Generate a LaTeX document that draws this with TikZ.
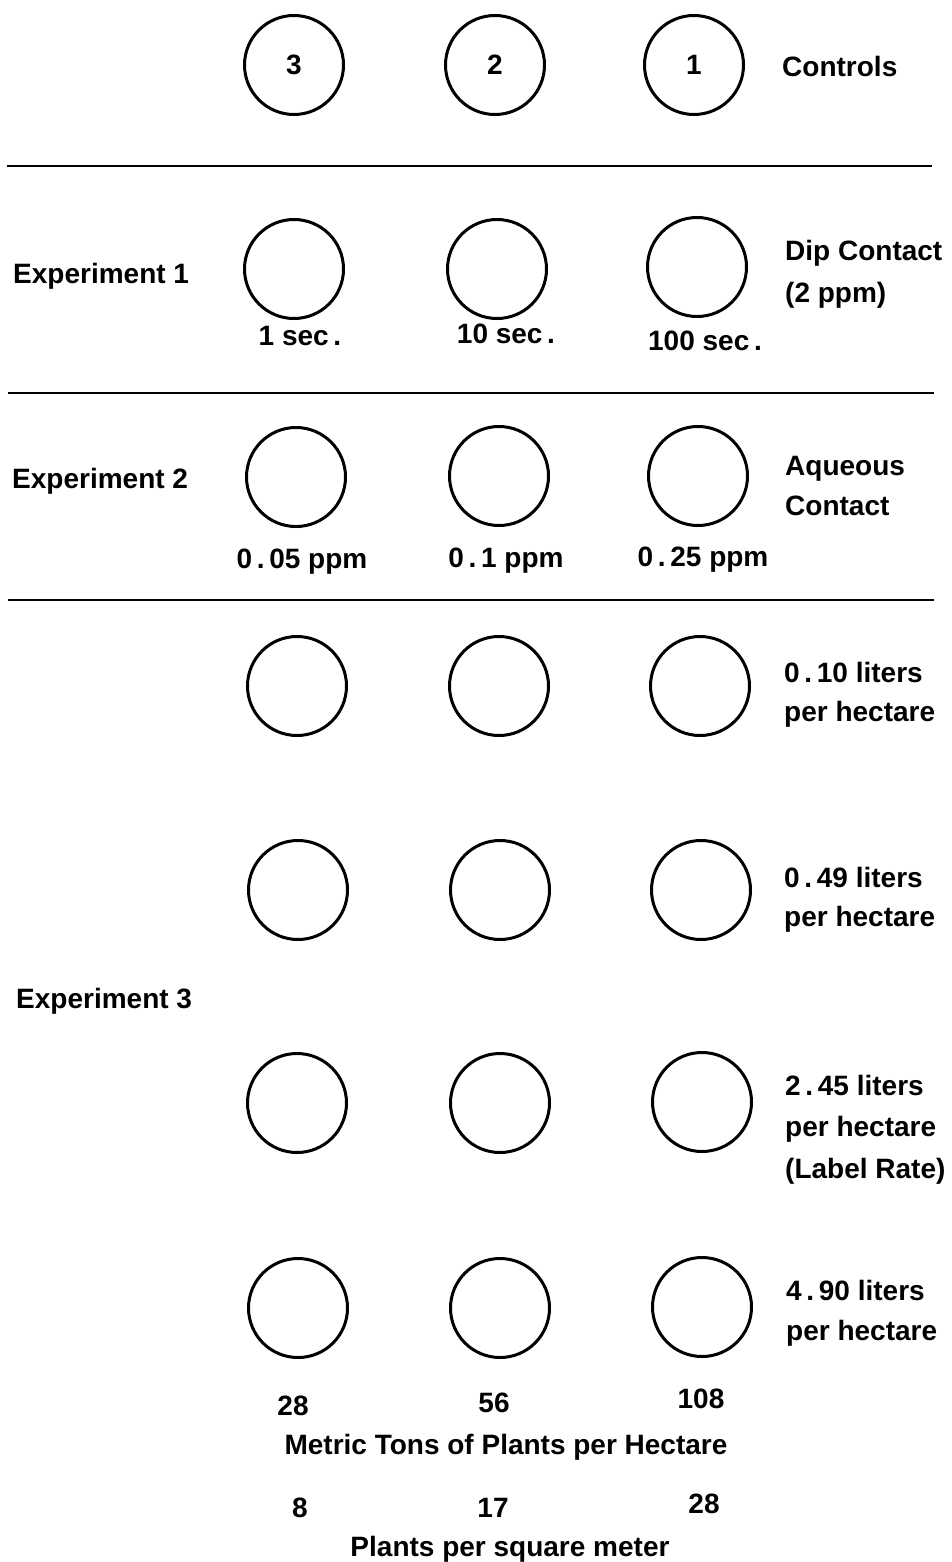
\documentclass[tikz,border=0pt]{standalone}
\usepackage{fontspec}
\setmainfont{Liberation Sans}
\begin{document}
\begin{tikzpicture}[x=1pt,y=-1pt,
  dish/.style={circle,draw,line width=3pt,minimum size=99pt,inner sep=0pt},
  lbl/.style={inner sep=0pt,font=\fontsize{28}{40}\selectfont\bfseries},
  bl/.style={lbl,anchor=base},
  rl/.style={lbl,anchor=base west},
  sep/.style={line width=2.6pt}]
\useasboundingbox (0,0) rectangle (951,1562);
% Controls
\node[dish,lbl] (c3) at (294,65) {3};
\node[dish,lbl] (c2) at (495,65) {2};
\node[dish,lbl] (c1) at (694,65) {1};
\node[rl] (ctl) at (782,77) {Controls};
\coordinate (l1a) at (7,166); \coordinate (l1b) at (932,166);
\draw[sep] (l1a) -- (l1b);
% Experiment 1
\node[lbl,anchor=base west] (e1) at (13,283) {Experiment 1};
\node[dish] (a1) at (294,269) {};
\node[dish] (a2) at (497,269) {};
\node[dish] (a3) at (697,267) {};
\node[rl] (dip1) at (785,260) {Dip Contact};
\node[rl] (dip2) at (785,302) {(2 ppm)};
\node[bl] (t1) at (300,345) {1 sec\,.};
\node[bl] (t2) at (506,343) {10 sec\,.};
\node[bl] (t3) at (705,350) {100 sec\,.};
\coordinate (l2a) at (8,393); \coordinate (l2b) at (934,393);
\draw[sep] (l2a) -- (l2b);
% Experiment 2
\node[lbl,anchor=base west] (e2) at (12,488) {Experiment 2};
\node[dish] (b1) at (296,477) {};
\node[dish] (b2) at (499,476) {};
\node[dish] (b3) at (698,476) {};
\node[rl] (aq1) at (785,475) {Aqueous};
\node[rl] (aq2) at (785,515) {Contact};
\node[bl] (p1) at (302,568) {0\,.\,05 ppm};
\node[bl] (p2) at (506,567) {0\,.\,1 ppm};
\node[bl] (p3) at (703,566) {0\,.\,25 ppm};
\coordinate (l3a) at (8,600); \coordinate (l3b) at (934,600);
\draw[sep] (l3a) -- (l3b);
% Experiment 3
\node[lbl,anchor=base west] (e3) at (16,1008) {Experiment 3};
\node[dish] (d11) at (297,686) {};
\node[dish] (d12) at (499,686) {};
\node[dish] (d13) at (700,686) {};
\node[rl] (r1a) at (784,682) {0\,.\,10 liters};
\node[rl] (r1b) at (784,721) {per hectare};
\node[dish] (d21) at (298,890) {};
\node[dish] (d22) at (500,890) {};
\node[dish] (d23) at (701,890) {};
\node[rl] (r2a) at (784,887) {0\,.\,49 liters};
\node[rl] (r2b) at (784,926) {per hectare};
\node[dish] (d31) at (297,1103) {};
\node[dish] (d32) at (500,1103) {};
\node[dish] (d33) at (702,1102) {};
\node[rl] (r3a) at (785,1095) {2\,.\,45 liters};
\node[rl] (r3b) at (785,1136) {per hectare};
\node[rl] (r3c) at (785,1178) {(Label Rate)};
\node[dish] (d41) at (298,1308) {};
\node[dish] (d42) at (500,1308) {};
\node[dish] (d43) at (702,1307) {};
\node[rl] (r4a) at (786,1300) {4\,.\,90 liters};
\node[rl] (r4b) at (786,1340) {per hectare};
% bottom scales
\node[bl] (m1) at (293,1415) {28};
\node[bl] (m2) at (494,1412) {56};
\node[bl] (m3) at (701,1408) {108};
\node[bl] (mt) at (506,1454) {Metric Tons of Plants per Hectare};
\node[bl] (n1) at (300,1517) {8};
\node[bl] (n2) at (493,1517) {17};
\node[bl] (n3) at (704,1513) {28};
\node[bl] (nt) at (510,1556) {Plants per square meter};
\end{tikzpicture}
\end{document}
